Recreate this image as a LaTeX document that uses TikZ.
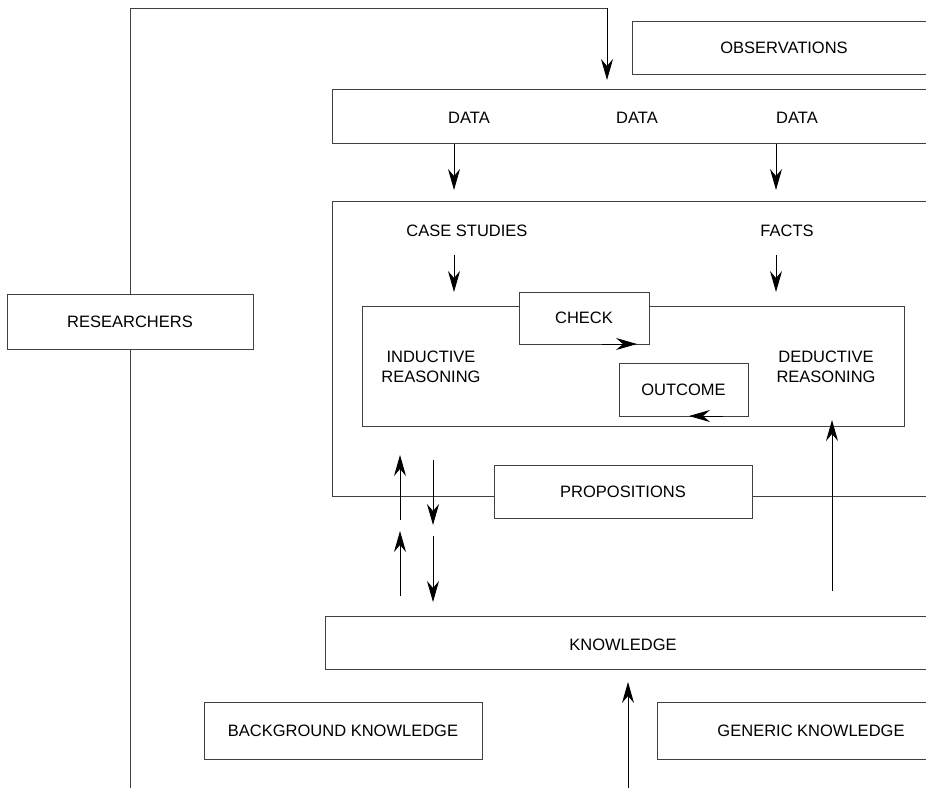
\documentclass[tikz,border=0pt]{standalone}
\usepackage{fontspec}
\setmainfont{Liberation Sans}
\usetikzlibrary{arrows.meta}
\newcommand{\lbl}{\fontsize{16.5}{20}\selectfont}
\begin{document}
\begin{tikzpicture}[x=1pt,y=-1pt,
  box/.style={draw=black!75, line width=1pt, rectangle, inner sep=0pt, fill=white, font=\lbl},
  txt/.style={font=\lbl, inner sep=0pt, align=center},
  arr/.style={-{Stealth[length=21pt,width=12pt,inset=7pt]}, line width=0.9pt, black},
  ln/.style={line width=1pt, draw=black!75}]
\useasboundingbox (0,0) rectangle (926,788);
\clip (0,0) rectangle (926,788);
% boxes
\node[box, minimum width=628pt, minimum height=295pt] (big) at (646,348.5) {};
\node[box, minimum width=542pt, minimum height=120pt] (inner) at (633,366) {};
\node[box, minimum width=328pt, minimum height=53pt] (obs) at (796,47.5) {};
\node[txt] (obst) at (784,48) {OBSERVATIONS};
\node[box, minimum width=628pt, minimum height=54pt] (data) at (646,116) {};
\node[txt] (d1) at (469,118) {DATA};
\node[txt] (d2) at (637,118) {DATA};
\node[txt] (d3) at (797,118) {DATA};
\node[box, minimum width=246pt, minimum height=55pt] (res) at (130,321.5) {RESEARCHERS};
\node[txt] (case) at (467,231) {CASE STUDIES};
\node[txt] (facts) at (787,231) {FACTS};
\node[box, minimum width=130pt, minimum height=52pt] (check) at (584,318) {CHECK};
\node[box, minimum width=129pt, minimum height=53pt] (out) at (683.5,389.5) {OUTCOME};
\node[txt] (ind) at (431,367) {INDUCTIVE\\REASONING};
\node[txt] (ded) at (826,367) {DEDUCTIVE\\REASONING};
\node[box, minimum width=258pt, minimum height=53pt] (prop) at (623,491.5) {PROPOSITIONS};
\node[box, minimum width=635pt, minimum height=53pt] (know) at (642.5,642.5) {};
\node[txt] (knowt) at (623,645) {KNOWLEDGE};
\node[box, minimum width=278pt, minimum height=57pt] (bk) at (343,730.5) {BACKGROUND KNOWLEDGE};
\node[box, minimum width=303pt, minimum height=57pt] (gk) at (808.5,730.5) {};
\node[txt] (gkt) at (811,731) {GENERIC KNOWLEDGE};
% coordinates
\coordinate (bot) at (130,788);
\coordinate (corner) at (607,8);
\coordinate (obsin) at (607,80);
% connectors
\draw[ln] (res.south) -- (bot);
\draw[ln] (res.north) |- (corner);
\draw[arr] (corner) -- (obsin);
\draw[arr] (data.south -| 454,0) -- (454,190);
\draw[arr] (data.south -| 776,0) -- (776,190);
\draw[arr] (454,255) -- (454,292);
\draw[arr] (776,255) -- (776,292);
\draw[arr] (602,344) -- (637,344);
\draw[arr] (723,416) -- (689,416);
\draw[arr] (832,591) -- (832,420);
\draw[arr] (400,520) -- (400,455);
\draw[arr] (400,596) -- (400,531);
\draw[arr] (433,460) -- (433,525);
\draw[arr] (433,536) -- (433,602);
\draw[arr] (628,788) -- (628,682);
\end{tikzpicture}
\end{document}
